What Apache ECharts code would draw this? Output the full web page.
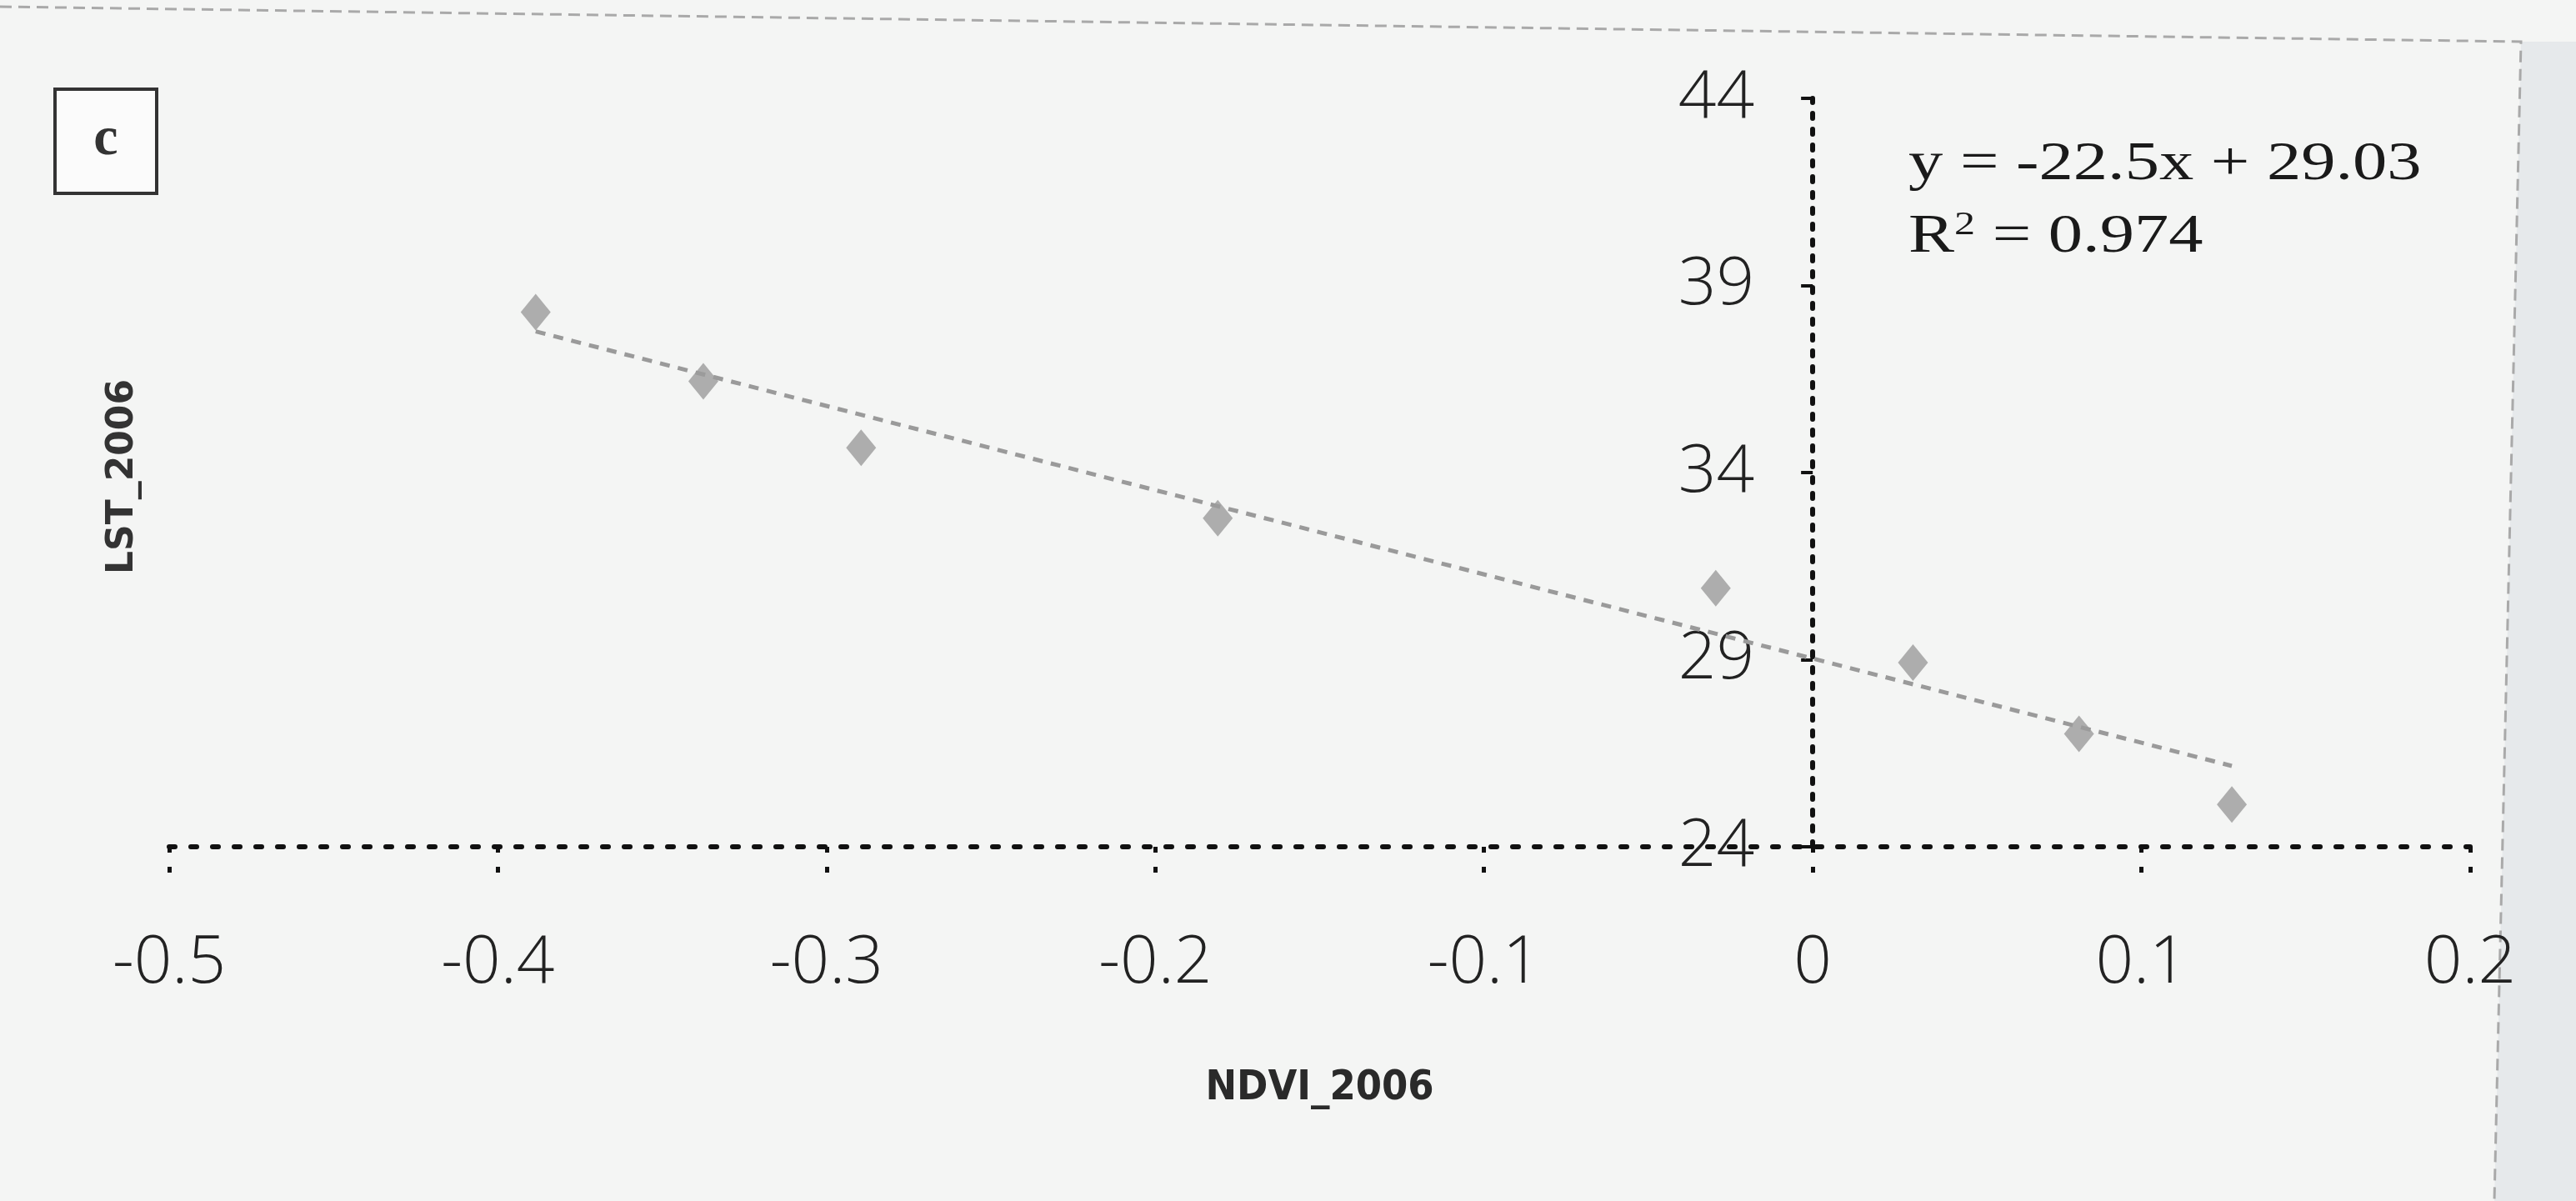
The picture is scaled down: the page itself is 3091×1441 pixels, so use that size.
<!DOCTYPE html>
<html><head><meta charset="utf-8">
<script src="https://cdn.jsdelivr.net/npm/echarts@6/dist/echarts.min.js"></script>
<style>html,body{margin:0;padding:0;background:#f4f5f4}#c{width:3091px;height:1441px}</style>
</head><body><div id="c"></div>
<script>
// ---- data ----
const ndvi = [-0.3885, -0.3375, -0.2895, -0.181, -0.0295, 0.0305, 0.081, 0.1275];
const lst  = [38.29, 36.44, 34.66, 32.78, 30.91, 28.92, 27.02, 25.13];
const xRange = [-0.5, 0.2];
const xStep = 0.1;
const yRange = [24, 44];
const yStep = 5;
const trendSlope = -22.5;
const trendIntercept = 29.03;
const equationText = 'y = -22.5x + 29.03';
const r2Value = '0.974';
const panelLetter = 'c';
const xName = 'NDVI_2006';
const yName = 'LST_2006';

// ---- build ----
const points = ndvi.map((x, i) => [x, lst[i]]);
const xMinData = Math.min.apply(null, ndvi), xMaxData = Math.max.apply(null, ndvi);
const trend = [[xMinData, trendSlope * xMinData + trendIntercept], [xMaxData, trendSlope * xMaxData + trendIntercept]];

const gridLeft = 203, gridRight = 127, W = 3091;
const plotW = W - gridLeft - gridRight;
// y axis sits at x = 0 (the left edge is shifted by offset computed from the x scale)
const zeroOffset = -plotW * (0 - xRange[0]) / (xRange[1] - xRange[0]);

const labelFont = "'Open Sans','Liberation Sans',sans-serif";
const chart = echarts.init(document.getElementById('c'));
chart.setOption({
  backgroundColor: '#f4f5f4',
  animation: false,
  grid: { left: gridLeft, right: gridRight, top: 118, bottom: 425, containLabel: false },
  xAxis: {
    type: 'value', min: xRange[0], max: xRange[1], interval: xStep,
    name: xName, nameLocation: 'middle', nameGap: 265,
    nameTextStyle: { fontFamily: "'Liberation Sans Narrow','DejaVu Sans Condensed','Liberation Sans',sans-serif", fontWeight: 'bold', fontSize: 50, color: '#2a2a2a' },
    axisLine: { show: true, onZero: false, lineStyle: { color: '#111', width: 6, type: [7, 19] } },
    axisTick: { show: true, length: 32, lineStyle: { color: '#111', width: 5, type: [7, 17] } },
    axisLabel: { margin: 100, fontFamily: labelFont, fontWeight: 300, fontSize: 80, color: '#222',
      formatter: v => String(Number(v.toFixed(1))) },
    splitLine: { show: false }
  },
  yAxis: {
    type: 'value', min: yRange[0], max: yRange[1], interval: yStep,
    position: 'left', offset: zeroOffset,
    axisLine: { show: true, onZero: false, lineStyle: { color: '#111', width: 6, type: [6, 13] } },
    axisTick: { show: true, length: 14, lineStyle: { color: '#111', width: 4 } },
    axisLabel: { margin: 70, fontFamily: labelFont, fontWeight: 300, fontSize: 80, color: '#222' },
    splitLine: { show: false }
  },
  series: [
    {
      type: 'line', data: trend, symbol: 'none', silent: true, z: 2,
      lineStyle: { color: '#9a9a9a', width: 5, type: [12, 10] }
    },
    {
      type: 'scatter', data: points, symbol: 'diamond', symbolSize: [36, 44], z: 3,
      itemStyle: { color: '#9b9b9b' }
    }
  ],
  graphic: [
    { type: 'polygon', z: -1, shape: { points: [[3025, 50], [3091, 50], [3091, 1441], [2993, 1441]] }, style: { fill: '#e6e9eb' } },
    { type: 'polyline', z: 0, shape: { points: [[0, 8], [3025, 50], [2993, 1441]] }, style: { stroke: '#a9a9a9', lineWidth: 3, lineDash: [14, 8], fill: null } },
    { type: 'rect', shape: { x: 66, y: 107, width: 122, height: 125 }, style: { fill: '#fbfbfb', stroke: '#333', lineWidth: 4 } },
    { type: 'text', x: 127, y: 168, style: { text: panelLetter, font: "bold 66px 'Liberation Serif',serif", fill: '#333', align: 'center', verticalAlign: 'middle' } },
    { type: 'text', x: 148, y: 572, rotation: Math.PI / 2, style: { text: yName, font: "bold 44px 'DejaVu Sans',sans-serif", fill: '#333', align: 'center', verticalAlign: 'middle' } },
    { type: 'text', x: 2290, y: 198, scaleX: 1.25, style: { text: equationText, font: "66px 'Liberation Serif',serif", fill: '#1a1a1a', align: 'left', verticalAlign: 'middle' } },
    { type: 'text', x: 2290, y: 285, scaleX: 1.25, style: {
        text: '{r|R}{s|2}{r| = ' + r2Value + '}',
        align: 'left', verticalAlign: 'middle',
        rich: {
          r: { fontFamily: "'Liberation Serif',serif", fontSize: 66, fill: '#1a1a1a', color: '#1a1a1a' },
          s: { fontFamily: "'Liberation Serif',serif", fontSize: 40, fill: '#1a1a1a', color: '#1a1a1a', verticalAlign: 'top', padding: [0, 0, 30, 0] }
        }
    } }
  ]
});
</script></body></html>
